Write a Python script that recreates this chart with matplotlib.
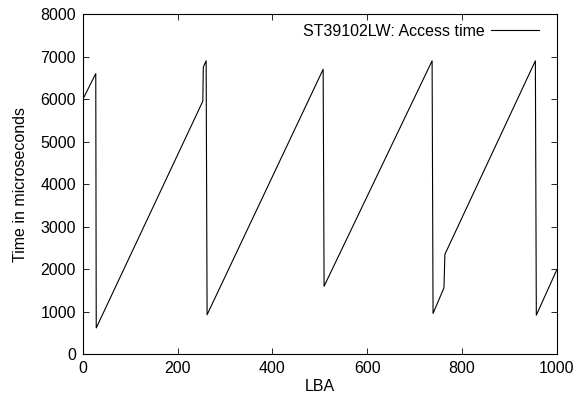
import numpy as np
import matplotlib.pyplot as plt

# access time vs LBA
lba = [0, 27, 28, 253, 254, 260, 262, 507, 509, 737, 739, 762, 764, 955, 957, 1000]
access_us = [6000, 6600, 620, 5950, 6750, 6900, 930, 6700, 1600, 6900, 960, 1560, 2350, 6900, 920, 1980]
xticks = [0, 200, 400, 600, 800, 1000]
yticks = [0, 1000, 2000, 3000, 4000, 5000, 6000, 7000, 8000]

plt.rcParams['font.family'] = ['Liberation Sans', 'DejaVu Sans']
plt.rcParams['font.size'] = 11.5

fig = plt.figure(figsize=(5.77, 4.05), dpi=100)
ax = fig.add_axes([0.1438, 0.1252, 0.821, 0.8402])

ax.plot(lba, access_us, color='black', linewidth=0.8, label='ST39102LW: Access time')

ax.set_xlim(0, 1000)
ax.set_ylim(0, 8000)
ax.set_xticks(xticks)
ax.set_yticks(yticks)
ax.tick_params(direction='in', top=True, right=True, length=4, width=0.6, pad=5)
for s in ax.spines.values():
    s.set_linewidth(0.8)

ax.set_xlabel('LBA', labelpad=2)
ax.set_ylabel('Time in microseconds', labelpad=9)

ax.legend(loc='upper right', bbox_to_anchor=(0.97, 0.98), frameon=False,
          markerfirst=False, handlelength=3.0, borderaxespad=0, borderpad=0.2,
          handletextpad=0.4)

fig.savefig('out.png', dpi=100)
